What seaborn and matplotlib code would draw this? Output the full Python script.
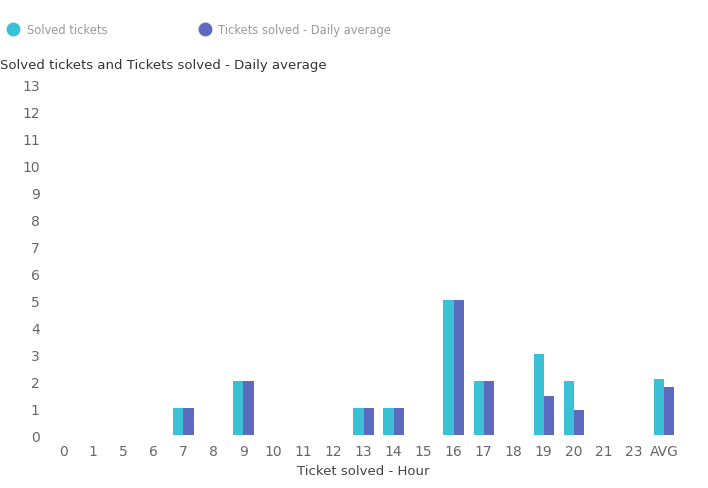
import pandas as pd
import matplotlib.pyplot as plt
import seaborn as sns
from matplotlib.lines import Line2D

# data
hours = ['0', '1', '5', '6', '7', '8', '9', '10', '11', '12', '13', '14', '15',
         '16', '17', '18', '19', '20', '21', '23', 'AVG']
solved = [0, 0, 0, 0, 1, 0, 2, 0, 0, 0, 1, 1, 0, 5, 2, 0, 3, 2, 0, 0, 2.08]
daily_avg = [0, 0, 0, 0, 1, 0, 2, 0, 0, 0, 1, 1, 0, 5, 2, 0, 1.45, 0.95, 0, 0, 1.77]
series = ['Solved tickets', 'Tickets solved - Daily average']
colors = ['#3bc1d5', '#5c6bc0']

df = pd.DataFrame({
    'hour': hours * 2,
    'value': solved + daily_avg,
    'series': [series[0]] * len(hours) + [series[1]] * len(hours),
})

sns.set_style('white')
plt.rcParams['font.family'] = ['DejaVu Sans']

fig = plt.figure(figsize=(7.08, 4.89), dpi=100)
ax = fig.add_axes([0.068, 0.108, 0.891, 0.718])

sns.barplot(data=df, x='hour', y='value', hue='series', order=hours,
            palette=colors, width=0.68, saturation=1, linewidth=0,
            ax=ax, legend=False)

ax.set_xlim(-0.5, len(hours) - 0.5)
ax.set_ylim(0, 13)
ax.set_yticks(range(0, 14))
sns.despine(ax=ax, left=True, bottom=True)
ax.tick_params(axis='both', length=0, labelsize=10, labelcolor='#666666')
ax.tick_params(axis='y', pad=6)
ax.tick_params(axis='x', pad=6)
ax.set_ylabel('')
ax.set_xlabel('Ticket solved - Hour', fontsize=9.5, color='#444444', labelpad=5)

fig.text(0.0, 0.866, 'Solved tickets and Tickets solved - Daily average',
         fontsize=9.5, color='#333333', va='center', ha='left')

# legend at the top with round markers
handles = [Line2D([0], [0], marker='o', linestyle='', markersize=9,
                  markerfacecolor=c, markeredgecolor=c) for c in colors]
fig.legend([handles[0]], [series[0]], loc='center left',
           bbox_to_anchor=(-0.013, 0.938), frameon=False, fontsize=8.3,
           labelcolor='#999999', handletextpad=0.2)
fig.legend([handles[1]], [series[1]], loc='center left',
           bbox_to_anchor=(0.258, 0.938), frameon=False, fontsize=8.3,
           labelcolor='#999999', handletextpad=0.2)

fig.savefig('out.png', dpi=100)
